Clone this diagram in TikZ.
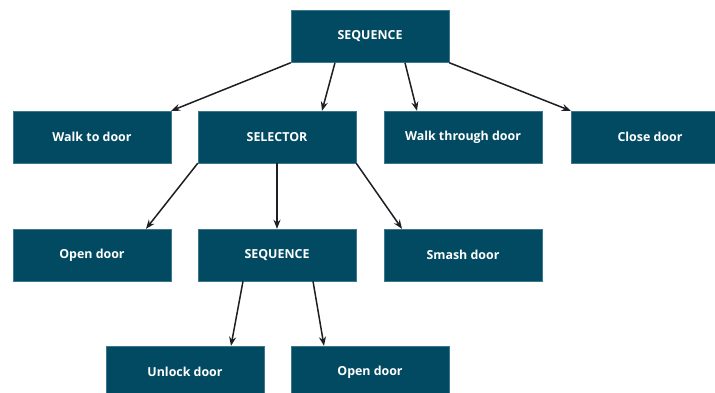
\documentclass[tikz,border=0pt]{standalone}
\usepackage{fontspec}
\setmainfont{Open Sans}
\usetikzlibrary{arrows.meta}

\tikzset{
    task/.style={draw={rgb,255:red,60;green,120;blue,140}, line width=0.4pt,
        fill={rgb,255:red,2;green,74;blue,98}, text=white,
        minimum width=158pt, minimum height=52pt, inner sep=0pt,
        font=\fontsize{12.4}{14}\selectfont\bfseries},
    link/.style={line width=1.5pt, draw={rgb,255:red,30;green,30;blue,36},
        -{Stealth[length=9pt,width=7pt]}}
}

\begin{document}
\begin{tikzpicture}[x=1pt, y=-1pt]
    \path [use as bounding box] (0,0) rectangle (715,392);
    \node [task] (seq)   at (370,36.5) {SEQUENCE};
    \node [task] (walk)  at (92,137)   {Walk to door};
    \node [task] (sel)   at (277,137)  {SELECTOR};
    \node [task] (thru)  at (463,137)  {Walk through door};
    \node [task] (close) at (650,137)  {Close door};
    \node [task] (open)  at (92,255)   {Open door};
    \node [task] (seqb)  at (277,255)  {SEQUENCE};
    \node [task] (smash) at (463,255)  {Smash door};
    \node [task] (unlock) at (185,372) {Unlock door};
    \node [task] (openb)  at (370,372) {Open door};
    \draw [link] (seq.south west) -- (walk.north east);
    \draw [link] ([xshift=-35pt]seq.south) -- ([xshift=45pt]sel.north);
    \draw [link] ([xshift=35pt]seq.south) -- ([xshift=-46pt]thru.north);
    \draw [link] (seq.south east) -- (close.north west);
    \draw [link] (sel.south west) -- ([xshift=54pt]open.north);
    \draw [link] (sel.south) -- (seqb.north);
    \draw [link] (sel.south east) -- ([xshift=-61pt]smash.north);
    \draw [link] ([xshift=-34pt]seqb.south) -- ([xshift=46pt]unlock.north);
    \draw [link] ([xshift=36pt]seqb.south) -- ([xshift=-46pt]openb.north);
\end{tikzpicture}
\end{document}
